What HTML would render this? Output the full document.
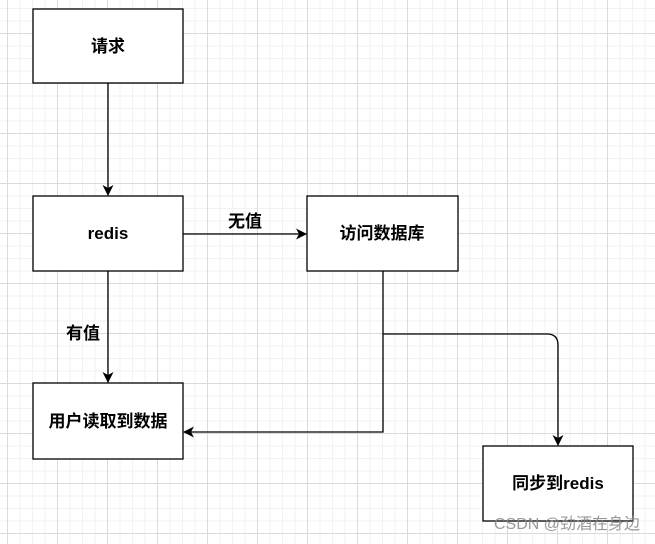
<!DOCTYPE html>
<html><head><meta charset="utf-8"><style>
html,body{margin:0;padding:0;}
body{width:655px;height:544px;overflow:hidden;background:#fff;
background-image:
linear-gradient(#dadada 1px,transparent 1px),
linear-gradient(90deg,#dadada 1px,transparent 1px),
linear-gradient(#f2f2f2 1px,transparent 1px),
linear-gradient(90deg,#f2f2f2 1px,transparent 1px);
background-size:50px 50px,50px 50px,12.5px 12.5px,12.5px 12.5px;
background-position:0 33px,7px 0,0 8px,7px 0;}
svg{position:absolute;left:0;top:0;}
text{font-family:"Liberation Sans","Noto Sans CJK SC",sans-serif;font-weight:bold;font-size:17px;fill:#000;}
</style></head><body>
<svg width="655" height="544" viewBox="0 0 655 544">
<defs><marker id="a" markerWidth="11" markerHeight="11" refX="10" refY="5.5" orient="auto" markerUnits="userSpaceOnUse"><path d="M0,0 L11,5.5 L0,11 L3,5.5 z" fill="#000"/></marker></defs>
<g fill="#fff" stroke="#000" stroke-width="1.3">
<rect x="33" y="9" width="150" height="74"/>
<rect x="33" y="196" width="150" height="75"/>
<rect x="307" y="196" width="151" height="75"/>
<rect x="33" y="383" width="150" height="76"/>
<rect x="483" y="446" width="150" height="75"/>
</g>
<g fill="none" stroke="#000" stroke-width="1.3">
<path d="M108 83 V195" marker-end="url(#a)"/>
<path d="M183 234 H306" marker-end="url(#a)"/>
<path d="M108 271 V382" marker-end="url(#a)"/>
<path d="M383 271 V432 H184" marker-end="url(#a)"/>
<path d="M383 334 H547 Q558 334 558 345 V445" marker-end="url(#a)"/>
</g>
<text x="108" y="52" text-anchor="middle">请求</text>
<text x="108" y="239" text-anchor="middle">redis</text>
<text x="382" y="239" text-anchor="middle">访问数据库</text>
<text x="108" y="427" text-anchor="middle">用户读取到数据</text>
<text x="558" y="489" text-anchor="middle">同步到redis</text>
<text x="245" y="227" text-anchor="middle">无值</text>
<text x="83" y="339" text-anchor="middle">有值</text>
<text x="640" y="529" text-anchor="end" style="font-weight:normal;font-size:16px;fill:#888;opacity:.85">CSDN @劲酒在身边</text>
</svg>
</body></html>
